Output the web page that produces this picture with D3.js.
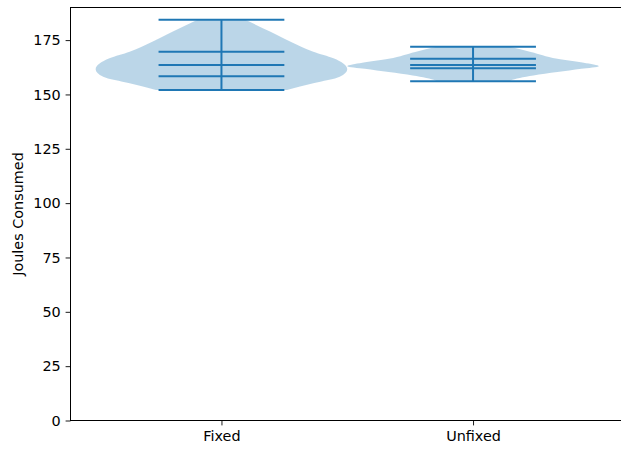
<!DOCTYPE html>
<html>
<head>
<meta charset="utf-8">
<script src="https://cdn.jsdelivr.net/npm/d3@7"></script>
<style>
  body { margin: 0; background: #fff; }
  svg { display: block; font-family: "DejaVu Sans", sans-serif; }
</style>
</head>
<body>
<div id="chart"></div>
<script>
// groups and their positions on the x axis
const groups = ["Fixed", "Unfixed"];
const positions = [1, 2];

// violin outline: [value, relative half-width]
const fixedDensity = [
  [184.35, 0.19], [178.8, 0.39], [174.2, 0.55], [169.6, 0.73], [166.6, 0.89],
  [161.6, 1.0], [158.1, 0.94], [155.1, 0.73], [152.0, 0.52]
];
const unfixedDensity = [
  [171.9, 0.29], [169.5, 0.46], [166.4, 0.67], [164.6, 0.88], [163.0, 1.0],
  [161.8, 0.86], [160.3, 0.67], [158.7, 0.48], [156.4, 0.30], [156.1, 0.29]
];

// horizontal marker lines (max, upper, mid, lower, min)
const fixedLines = [184.35, 169.6, 163.6, 158.4, 152.0];
const unfixedLines = [171.9, 166.4, 163.5, 162.0, 156.1];

const yTicks = [0, 25, 50, 75, 100, 125, 150, 175];

const W = 621, H = 452;
const mLeft = 70.5, mTop = 7.5, mBottom = 420.5, mRight = 624;
const fontPx = "14.4px";

const x = d3.scaleLinear().domain([0.4, 2.6]).range([mLeft, mRight]);
const y = d3.scaleLinear().domain([0, 190]).range([mBottom, mTop]);

const svg = d3.select("#chart").append("svg")
  .attr("width", W)
  .attr("height", H);

const blue = "#1f77b4";
const violins = [
  { pos: positions[0], density: fixedDensity, lines: fixedLines },
  { pos: positions[1], density: unfixedDensity, lines: unfixedLines }
];

const plot = svg.append("g");

violins.forEach(v => {
  const area = d3.area()
    .y(d => y(d[0]))
    .x0(d => x(v.pos - 0.5 * d[1]))
    .x1(d => x(v.pos + 0.5 * d[1]))
    .curve(d3.curveMonotoneY);

  plot.append("path")
    .datum(v.density)
    .attr("d", area)
    .attr("fill", blue)
    .attr("fill-opacity", 0.3);

  // vertical line min -> max
  plot.append("line")
    .attr("x1", x(v.pos)).attr("x2", x(v.pos))
    .attr("y1", y(d3.max(v.lines))).attr("y2", y(d3.min(v.lines)))
    .attr("stroke", blue)
    .attr("stroke-width", 2);

  plot.selectAll(null)
    .data(v.lines)
    .enter()
    .append("line")
    .attr("x1", x(v.pos - 0.25)).attr("x2", x(v.pos + 0.25))
    .attr("y1", d => y(d)).attr("y2", d => y(d))
    .attr("stroke", blue)
    .attr("stroke-width", 2);
});

// axes
const yAxis = svg.append("g")
  .attr("transform", `translate(${mLeft},0)`)
  .call(d3.axisLeft(y).tickValues(yTicks).tickSize(4.9).tickPadding(4.9));

const xAxis = svg.append("g")
  .attr("transform", `translate(0,${mBottom})`)
  .call(d3.axisBottom(x).tickValues(positions).tickFormat((d, i) => groups[i])
    .tickSize(4.9).tickPadding(4.9));

[yAxis, xAxis].forEach(a => {
  a.select(".domain").remove();
  a.selectAll("text").style("font-size", fontPx).attr("fill", "#000")
    .style("font-family", "'DejaVu Sans', sans-serif");
  a.selectAll("line").attr("stroke", "#000").attr("stroke-width", 0.9);
});

// spines
svg.append("rect")
  .attr("x", mLeft).attr("y", mTop)
  .attr("width", mRight - mLeft).attr("height", mBottom - mTop)
  .attr("fill", "none")
  .attr("stroke", "#000")
  .attr("stroke-width", 1);

svg.append("text")
  .attr("transform", `translate(23,${(mTop + mBottom) / 2}) rotate(-90)`)
  .attr("text-anchor", "middle")
  .style("font-size", fontPx)
  .text("Joules Consumed");
</script>
</body>
</html>
